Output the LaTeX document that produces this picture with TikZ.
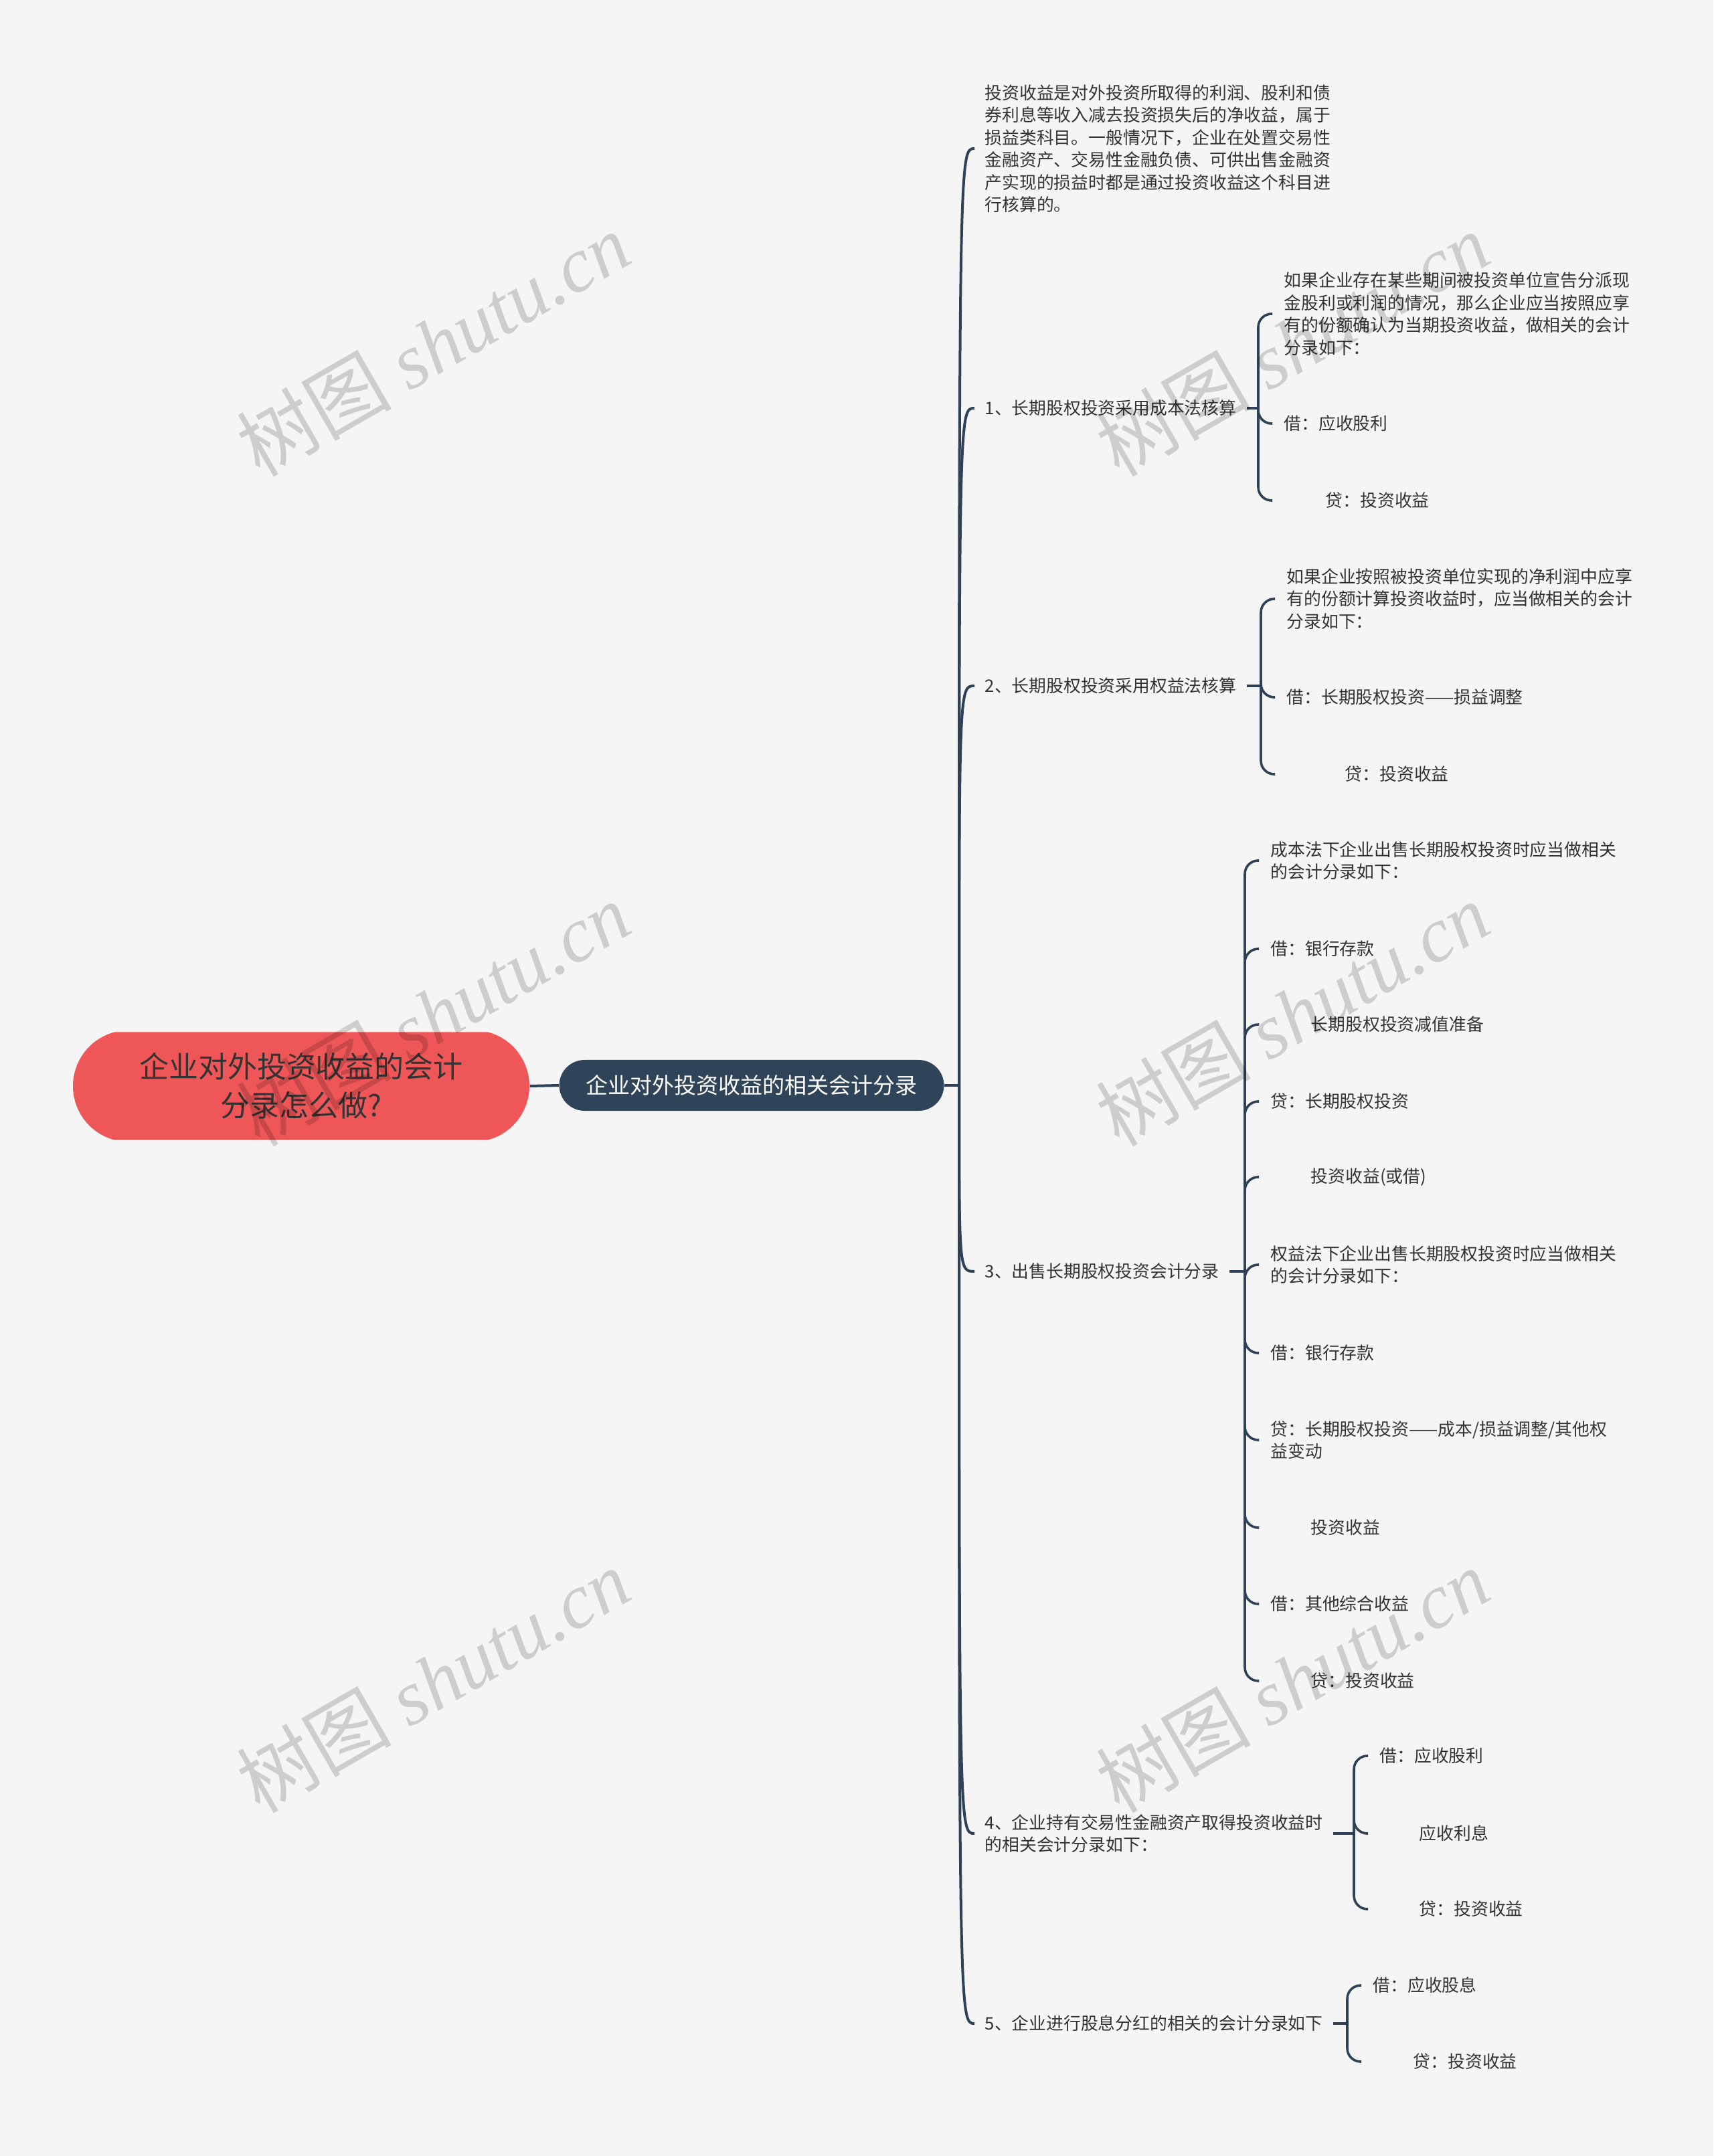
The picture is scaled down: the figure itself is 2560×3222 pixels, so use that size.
\documentclass[tikz,border=0pt]{standalone}
\usepackage{fontspec}
\setmainfont{Noto Sans CJK SC}
\newfontfamily\wmlatin{Liberation Serif}
\usetikzlibrary{shapes.misc,calc}

\definecolor{bgcol}{HTML}{F5F5F5}
\definecolor{rootred}{HTML}{EF5658}
\definecolor{navy}{HTML}{2F4359}
\definecolor{inkline}{HTML}{2E4156}
\definecolor{txt}{HTML}{333333}

\tikzset{
  leaf/.style={anchor=west, inner xsep=0.17cm, inner ysep=0pt, align=left, text=txt,
    font=\fontsize{7.34pt}{9.53pt}\selectfont},
  topic/.style={leaf, inner xsep=0.15cm},
  trunk/.style={draw=inkline, line width=0.04cm},
  branch/.style={draw=inkline, line width=0.036cm, rounded corners=0.2cm},
  wmtext/.style={rotate=30, text=black, text opacity=0.16,
    font=\fontsize{33pt}{33pt}\selectfont}
}

\begin{document}
\begin{tikzpicture}[x=0.01cm,y=-0.01cm]
  \fill[bgcol] (0,0) rectangle (2560,3222);

  % centre
  \node[rounded rectangle, rounded rectangle arc length=150, fill=rootred,
    minimum width=7.05cm, minimum height=1.61cm, align=center, text=txt,
    font=\fontsize{12.5pt}{16.5pt}\selectfont] (root) at (450,1623) {企业对外投资收益的会计\\分录怎么做?};
  \node[rounded rectangle, fill=navy, minimum width=5.98cm, minimum height=0.76cm,
    text=white, font=\fontsize{9.4pt}{11pt}\selectfont] (main) at (1123,1622) {企业对外投资收益的相关会计分录};
  \coordinate (fork) at (1433,1622);
  \draw[trunk] (root.east) -- (main.west);
  \draw[trunk] (main.east) -- (fork);

  % first level
  \node[topic] (c0) at (1456,222) {投资收益是对外投资所取得的利润、股利和债\\券利息等收入减去投资损失后的净收益，属于\\损益类科目。一般情况下，企业在处置交易性\\金融资产、交易性金融负债、可供出售金融资\\产实现的损益时都是通过投资收益这个科目进\\行核算的。};
  \node[topic] (c1) at (1456,610) {1、长期股权投资采用成本法核算};
  \node[topic] (c2) at (1456,1025) {2、长期股权投资采用权益法核算};
  \node[topic] (c3) at (1456,1900) {3、出售长期股权投资会计分录};
  \node[topic] (c4) at (1456,2740) {4、企业持有交易性金融资产取得投资收益时\\的相关会计分录如下：};
  \node[topic] (c5) at (1456,3024) {5、企业进行股息分红的相关的会计分录如下};
  \foreach \c in {c0,c1,c2,c3,c4,c5}
    \draw[trunk] (fork) .. controls (fork |- \c.west) .. (\c.west);

  % 1
  \coordinate (b1) at (1880,610);
  \node[leaf] (c1a) at (1901,469) {如果企业存在某些期间被投资单位宣告分派现\\金股利或利润的情况，那么企业应当按照应享\\有的份额确认为当期投资收益，做相关的会计\\分录如下：};
  \node[leaf] (c1b) at (1901,633) {借：应收股利};
  \node[leaf] (c1c) at (1901,748) {\hspace*{0.62cm}贷：投资收益};
  \draw[branch] (c1.east) -- (b1);
  \foreach \k in {a,b,c} \draw[branch] (b1) |- (c1\k.west);

  % 2
  \coordinate (b2) at (1884,1025);
  \node[leaf] (c2a) at (1905,895) {如果企业按照被投资单位实现的净利润中应享\\有的份额计算投资收益时，应当做相关的会计\\分录如下：};
  \node[leaf] (c2b) at (1905,1042) {借：长期股权投资——损益调整};
  \node[leaf] (c2c) at (1905,1157) {\hspace*{0.87cm}贷：投资收益};
  \draw[branch] (c2.east) -- (b2);
  \foreach \k in {a,b,c} \draw[branch] (b2) |- (c2\k.west);

  % 3
  \coordinate (b3) at (1860,1900);
  \node[leaf] (c3a) at (1881,1286) {成本法下企业出售长期股权投资时应当做相关\\的会计分录如下：};
  \node[leaf] (c3b) at (1881,1418) {借：银行存款};
  \node[leaf] (c3c) at (1881,1531) {\hspace*{0.6cm}长期股权投资减值准备};
  \node[leaf] (c3d) at (1881,1646) {贷：长期股权投资};
  \node[leaf] (c3e) at (1881,1759) {\hspace*{0.6cm}投资收益(或借)};
  \node[leaf] (c3f) at (1881,1890) {权益法下企业出售长期股权投资时应当做相关\\的会计分录如下：};
  \node[leaf] (c3g) at (1881,2022) {借：银行存款};
  \node[leaf] (c3h) at (1881,2152) {贷：长期股权投资——成本/损益调整/其他权\\益变动};
  \node[leaf] (c3i) at (1881,2283) {\hspace*{0.6cm}投资收益};
  \node[leaf] (c3j) at (1881,2397) {借：其他综合收益};
  \node[leaf] (c3k) at (1881,2512) {\hspace*{0.6cm}贷：投资收益};
  \draw[branch] (c3.east) -- (b3);
  \foreach \k in {a,b,c,d,e,f,g,h,i,j,k} \draw[branch] (b3) |- (c3\k.west);

  % 4
  \coordinate (b4) at (2023,2740);
  \node[leaf] (c4a) at (2044,2624) {借：应收股利};
  \node[leaf] (c4b) at (2044,2740) {\hspace*{0.59cm}应收利息};
  \node[leaf] (c4c) at (2044,2853) {\hspace*{0.59cm}贷：投资收益};
  \draw[branch] (c4.east) -- (b4);
  \foreach \k in {a,b,c} \draw[branch] (b4) |- (c4\k.west);

  % 5
  \coordinate (b5) at (2013,3024);
  \node[leaf] (c5a) at (2034,2967) {借：应收股息};
  \node[leaf] (c5b) at (2034,3081) {\hspace*{0.6cm}贷：投资收益};
  \draw[branch] (c5.east) -- (b5);
  \foreach \k in {a,b} \draw[branch] (b5) |- (c5\k.west);

  % watermark
  \foreach \wx/\wy in {647/514,1931/514,647/1515,1931/1515,647/2511,1931/2511}
    \node[wmtext] at (\wx,\wy) {树图 {\wmlatin\itshape shutu.cn}};
\end{tikzpicture}
\end{document}
